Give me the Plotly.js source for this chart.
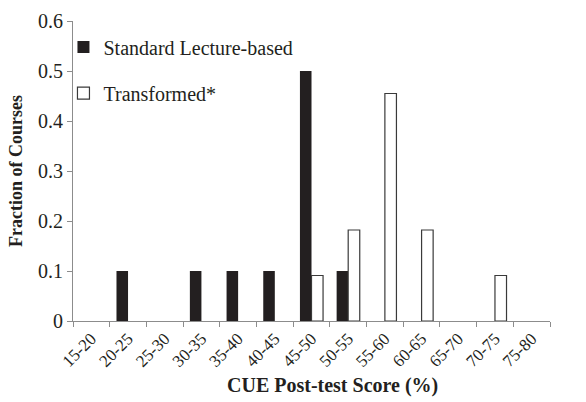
<!DOCTYPE html>
<html>
<head>
<meta charset="utf-8">
<script src="https://cdn.plot.ly/plotly-3.0.1.min.js"></script>
<style>html,body{margin:0;padding:0;background:#fff;}#chart{width:586px;height:402px;}</style>
</head>
<body>
<div id="chart"></div>
<script>
var categories = ["15-20","20-25","25-30","30-35","35-40","40-45","45-50","50-55","55-60","60-65","65-70","70-75","75-80"];
var standardLecture = [0, 0.1, 0, 0.1, 0.1, 0.1, 0.5, 0.1, 0, 0, 0, 0, 0];
var transformed = [0, 0, 0, 0, 0, 0, 0.091, 0.182, 0.455, 0.182, 0, 0.091, 0];
var yTicks = [0, 0.1, 0.2, 0.3, 0.4, 0.5, 0.6];
var yTickText = ["0", "0.1", "0.2", "0.3", "0.4", "0.5", "0.6"];
var xTitle = "CUE Post-test Score (%)";
var yTitle = "Fraction of Courses";

var serif = "'Liberation Serif'";

// empty bins are left undrawn (a zero-height outlined bar would leave a stub on the axis)
function hideZeros(arr) { return arr.map(function (v) { return v === 0 ? null : v; }); }

var traces = [
  {
    type: "bar", name: "Standard Lecture-based", x: categories, y: hideZeros(standardLecture),
    legendgroup: "a",
    marker: {color: "#231f20", line: {color: "#231f20", width: 0}}
  },
  {
    type: "bar", name: "Transformed*", x: categories, y: hideZeros(transformed),
    legendgroup: "b",
    marker: {color: "#ffffff", line: {color: "#3a3a3a", width: 1.2}}
  }
];

var layout = {
  width: 586, height: 402,
  margin: {l: 73, r: 36, t: 21, b: 81},
  paper_bgcolor: "#fff", plot_bgcolor: "#fff",
  font: {family: serif, color: "#231f20", size: 18},
  barmode: "group", bargap: 0.37, bargroupgap: 0,
  showlegend: true,
  legend: {
    x: -0.02, y: 0.978, xanchor: "left", yanchor: "top",
    bgcolor: "rgba(0,0,0,0)", traceorder: "grouped", tracegroupgap: 17,
    font: {family: serif, size: 20, color: "#231f20"}
  },
  xaxis: {
    type: "category", tickson: "boundaries", tickangle: -45,
    showline: true, linecolor: "#8c8c8c", linewidth: 1,
    ticks: "outside", ticklen: 5, tickcolor: "#8c8c8c",
    showgrid: false, zeroline: false,
    tickfont: {family: serif, size: 17, color: "#231f20"},
    range: [-0.5, 12.5]
  },
  yaxis: {
    range: [0, 0.6], tickvals: yTicks, ticktext: yTickText,
    showline: true, linecolor: "#8c8c8c", linewidth: 1,
    ticks: "outside", ticklen: 5, tickcolor: "#8c8c8c",
    showgrid: false, zeroline: false,
    tickfont: {family: serif, size: 20, color: "#231f20"},
    title: {text: "<b>" + yTitle + "</b>", font: {family: serif, size: 18, color: "#231f20"}, standoff: 10}
  },
  annotations: [{
    text: "<b>" + xTitle + "</b>", xref: "paper", yref: "paper",
    x: 0.543, y: -0.216, xanchor: "center", yanchor: "middle", showarrow: false,
    font: {family: serif, size: 20, color: "#231f20"}
  }]
};

Plotly.newPlot("chart", traces, layout, {displayModeBar: false, staticPlot: true});
</script>
</body>
</html>
